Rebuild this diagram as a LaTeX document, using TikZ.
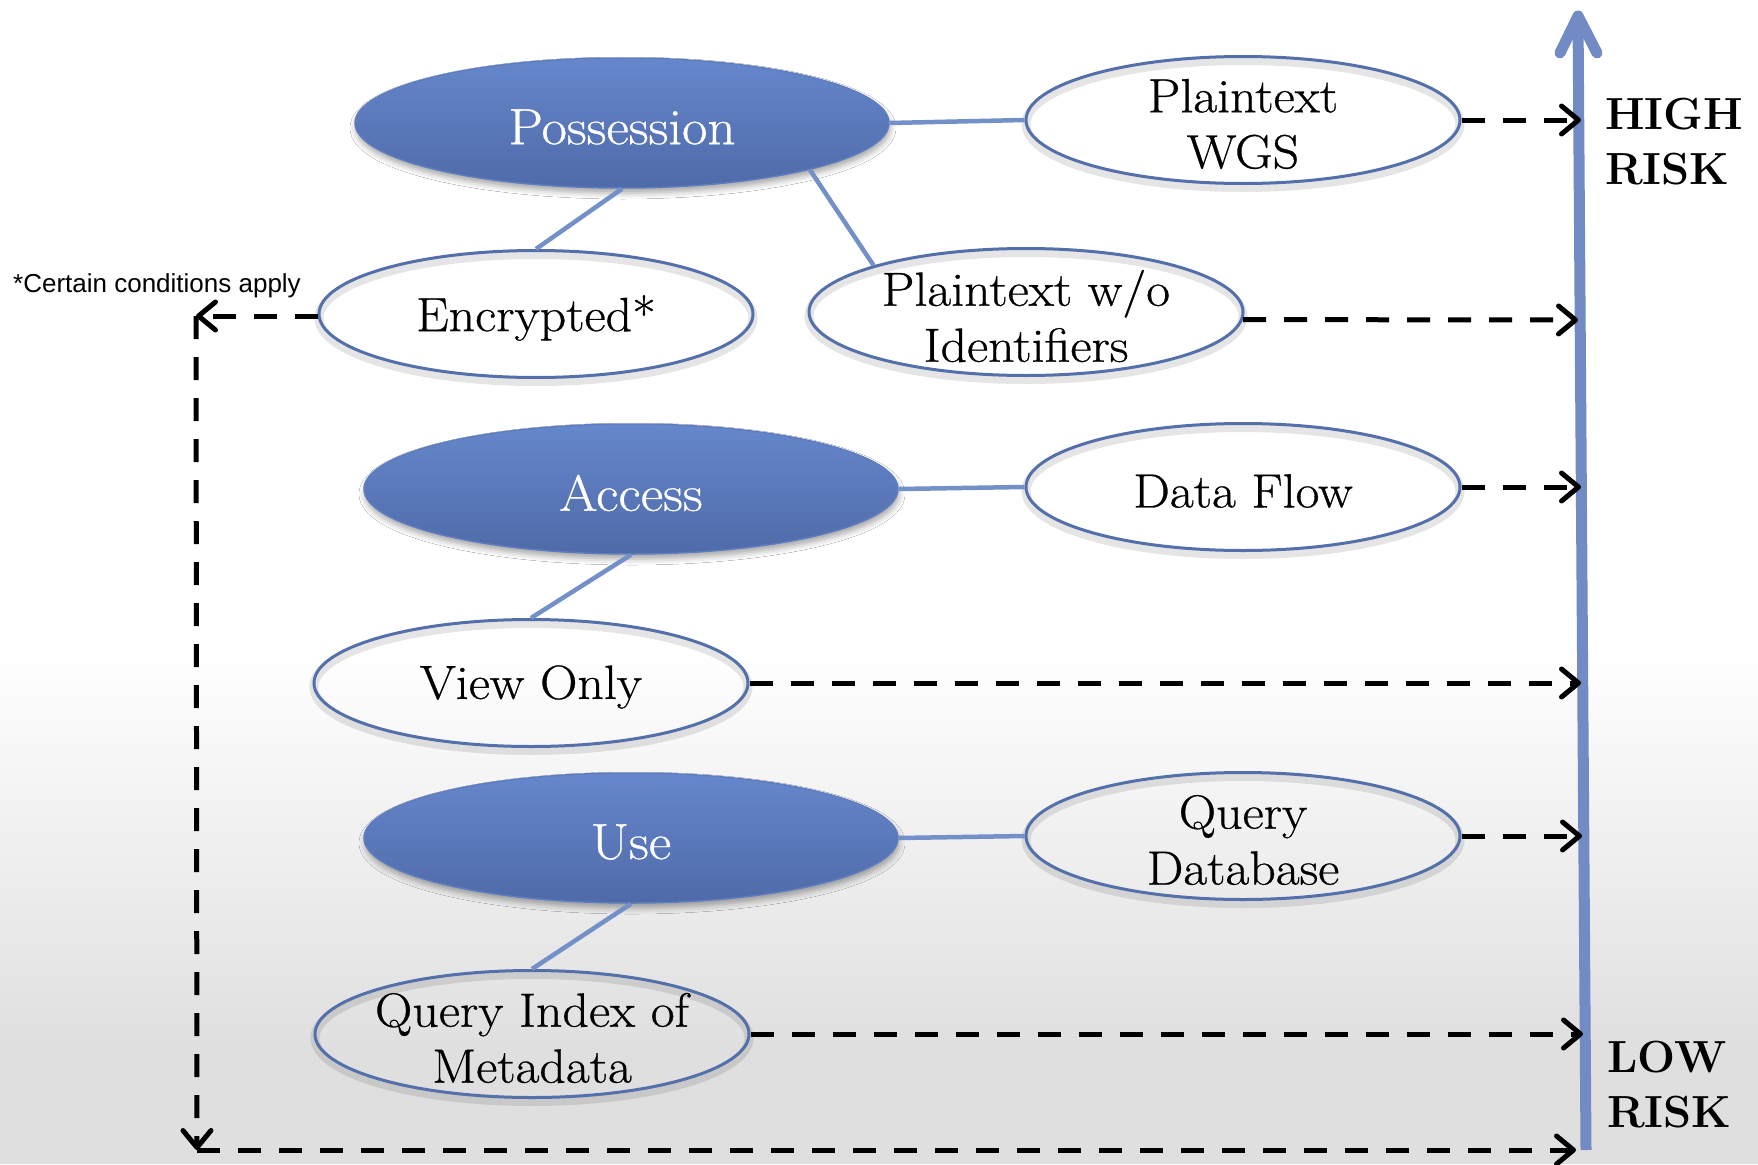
\documentclass[tikz,border=0pt]{standalone}
\usepackage{fontspec}
\setmainfont{Latin Modern Roman}
\newfontfamily\ovalfont{Latin Modern Roman}[FakeStretch=1.08, FakeBold=0.6]
\newfontfamily\notefont{Liberation Sans}
\usetikzlibrary{arrows.meta,shapes.geometric,shadows.blur}

\definecolor{ovaltop}{HTML}{6687CC}
\definecolor{ovalbot}{HTML}{4F6AA8}
\definecolor{ovaledge}{HTML}{5E7DC0}
\definecolor{rimblue}{HTML}{5470AA}
\definecolor{linkblue}{HTML}{7390C8}
\definecolor{axisblue}{HTML}{728BC4}
\definecolor{bggray}{HTML}{DFDFDF}

\tikzset{
  blueoval/.style={ellipse, minimum width=534pt, minimum height=130pt, inner sep=0pt,
    top color=ovaltop, bottom color=ovalbot, draw=ovaledge, line width=1.5pt,
    blur shadow={shadow xshift=1pt, shadow yshift=-5pt, shadow blur radius=6pt, shadow opacity=35}},
  whiteoval/.style={ellipse, minimum width=434pt, minimum height=127pt, inner sep=0pt,
    draw=rimblue, line width=3pt,
    preaction={draw=black, draw opacity=0.10, line width=9pt, transform canvas={yshift=-4pt}}},
  bluetext/.style={text=white, inner sep=0pt, font=\ovalfont\fontsize{51}{56}\selectfont, yshift=-4pt},
  whitetext/.style={text=black, inner sep=0pt, align=center, font=\ovalfont\fontsize{48}{56}\selectfont, yshift=-4pt},
  link/.style={draw=linkblue, line width=4.5pt},
  riskarrow/.style={draw=black, line width=5pt, dash pattern=on 23pt off 18pt,
    -{Straight Barb[length=17pt, width=28pt, line cap=round, line join=round]}},
  risklabel/.style={anchor=west, align=left, inner sep=0pt, font=\bfseries\fontsize{45}{55}\selectfont},
}

\begin{document}
\begin{tikzpicture}[x=1pt, y=-1pt]
  \useasboundingbox (0,0) rectangle (1758,1164);

  % background: white above, fading to light grey at the foot
  \fill[white] (0,0) rectangle (1758,651);
  \shade[top color=white, bottom color=bggray] (0,650) rectangle (1758,1051);
  \fill[bggray] (0,1050) rectangle (1758,1164);

  % risk axis
  \coordinate (axbot) at (1586,1150);
  \coordinate (axtop) at (1578,16);
  \draw[axisblue, line width=11pt] (axbot) -- (axtop);
  \draw[axisblue, line width=11pt, line cap=round, line join=round]
    (1560,53) -- (axtop) -- (1597,53);

  % categories
  \node[blueoval] (Pos) at (622,123) {};
  \node[blueoval] (Acc) at (631,489) {};
  \node[blueoval] (Use) at (631,838) {};
  \node[bluetext] (Pos-t) at (Pos) {Possession};
  \node[bluetext] (Acc-t) at (Acc) {Access};
  \node[bluetext] (Use-t) at (Use) {Use};

  % data forms
  \node[whiteoval] (WGS)  at (1243,120) {};
  \node[whiteoval] (Enc)  at (536,314) {};
  \node[whiteoval] (PwoI) at (1026,312) {};
  \node[whiteoval] (DF)   at (1243,487) {};
  \node[whiteoval] (VO)   at (531,683) {};
  \node[whiteoval] (QDB)  at (1243,836) {};
  \node[whiteoval] (QIM)  at (532,1034) {};
  \node[whitetext] (WGS-t)  at (WGS)  {Plaintext\\WGS};
  \node[whitetext] (Enc-t)  at (Enc)  {Encrypted*};
  \node[whitetext] (PwoI-t) at (PwoI) {Plaintext w/o\\Identifiers};
  \node[whitetext] (DF-t)   at (DF)   {Data Flow};
  \node[whitetext] (VO-t)   at (VO)   {View Only};
  \node[whitetext] (QDB-t)  at (QDB)  {Query\\Database};
  \node[whitetext] (QIM-t)  at (QIM)  {Query Index of\\Metadata};

  % links between categories and forms
  \draw[link] (Pos.east) -- (WGS.west);
  \draw[link] (Pos.south) -- (Enc.north);
  \draw[link] (Pos.-14) -- (PwoI.163);
  \draw[link] (Acc.east) -- (DF.west);
  \draw[link] (Acc.south) -- (VO.north);
  \draw[link] (Use.east) -- (QDB.west);
  \draw[link] (Use.south) -- (QIM.north);

  % risk levels on the axis
  \coordinate (t-wgs)  at (1581,120);
  \coordinate (t-pwo)  at (1578,320);
  \coordinate (t-df)   at (1581,487);
  \coordinate (t-vo)   at (1581,683);
  \coordinate (t-qdb)  at (1582,836);
  \coordinate (t-qim)  at (1583,1034);
  \coordinate (t-base) at (1576,1150);
  \coordinate (c-top)  at (196,316);
  \coordinate (c-bot)  at (197,1150);

  \draw[riskarrow] (WGS.east) -- (t-wgs);
  \draw[riskarrow] (PwoI.-2) -- (t-pwo);
  \draw[riskarrow] (DF.east) -- (t-df);
  \draw[riskarrow] (VO.east) -- (t-vo);
  \draw[riskarrow] (QDB.east) -- (t-qdb);
  \draw[riskarrow] (QIM.east) -- (t-qim);
  \draw[riskarrow] (Enc.west |- c-top) -- (c-top);
  \draw[riskarrow] (c-top) -- (c-bot);
  \draw[riskarrow] (c-bot) -- (t-base);

  % labels
  \node[risklabel] (high) at (1605,142) {HIGH\\RISK};
  \node[risklabel] (low)  at (1607,1085) {LOW\\RISK};
  \node[anchor=base west, inner sep=0pt, font=\notefont\fontsize{26}{30}\selectfont] (note)
    at (13,292) {*Certain conditions apply};
\end{tikzpicture}
\end{document}
